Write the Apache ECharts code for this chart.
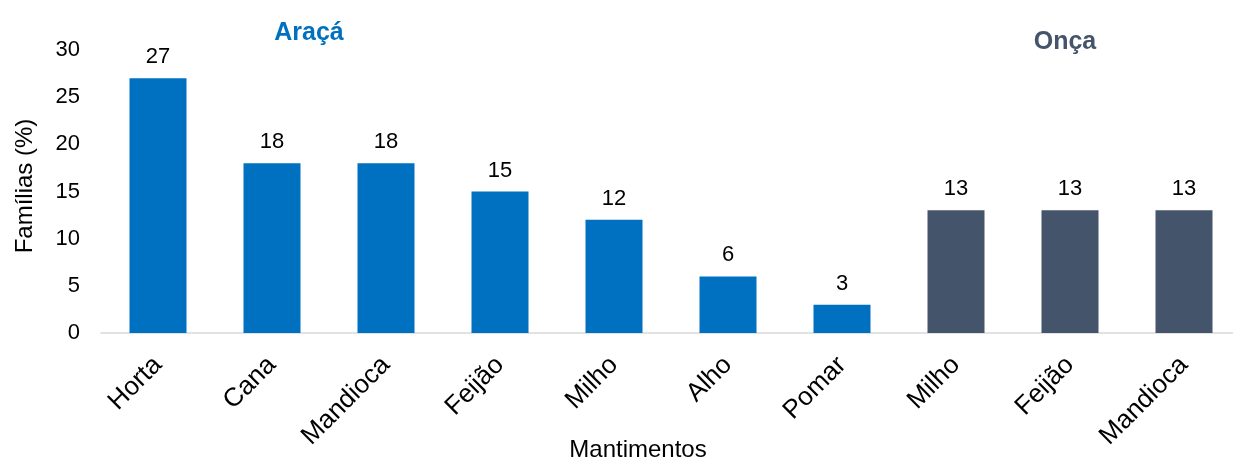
<!DOCTYPE html>
<html>
<head>
<meta charset="utf-8">
<script src="https://cdn.jsdelivr.net/npm/echarts@6/dist/echarts.min.js"></script>
<style>
  html, body { margin: 0; padding: 0; background: #fff; }
  #chart { width: 1233px; height: 459px; }
</style>
</head>
<body>
<div id="chart"></div>
<script>
// Crops cited by families in each community
const categories = ['Horta', 'Cana', 'Mandioca', 'Feijão', 'Milho', 'Alho', 'Pomar', 'Milho', 'Feijão', 'Mandioca'];
const values = [27, 18, 18, 15, 12, 6, 3, 13, 13, 13];
const communities = ['Araçá', 'Araçá', 'Araçá', 'Araçá', 'Araçá', 'Araçá', 'Araçá', 'Onça', 'Onça', 'Onça'];
const yTicks = [0, 5, 10, 15, 20, 25, 30];
const xTitle = 'Mantimentos';
const yTitle = 'Famílias (%)';

const colorOf = { 'Araçá': '#0070C0', 'Onça': '#44546A' };
const font = '"Liberation Sans", Arial, sans-serif';

const chart = echarts.init(document.getElementById('chart'));

chart.setOption({
  animation: false,
  textStyle: { fontFamily: font },
  grid: { left: 101, top: 50, width: 1140, height: 283, containLabel: false, outerBoundsMode: 'none' },
  graphic: [
    { type: 'text', x: 309, y: 33, style: { text: 'Araçá', fill: colorOf['Araçá'], font: 'bold 25px ' + font, textAlign: 'center', textVerticalAlign: 'middle' } },
    { type: 'text', x: 1065, y: 42, style: { text: 'Onça', fill: colorOf['Onça'], font: 'bold 25px ' + font, textAlign: 'center', textVerticalAlign: 'middle' } },
    { type: 'text', x: 638, y: 450, style: { text: xTitle, fill: '#000', font: '24px ' + font, textAlign: 'center', textVerticalAlign: 'middle' } },
    { type: 'text', x: 25, y: 186, rotation: Math.PI / 2, style: { text: yTitle, fill: '#000', font: '24px ' + font, textAlign: 'center', textVerticalAlign: 'middle' } }
  ],
  xAxis: {
    type: 'category',
    data: categories,
    axisLine: { show: true, lineStyle: { color: '#D9D9D9', width: 1.5 } },
    axisTick: { show: false },
    axisLabel: { rotate: 45, fontSize: 26, color: '#000', margin: 28, fontFamily: font, interval: 0 }
  },
  yAxis: {
    type: 'value',
    min: yTicks[0],
    max: yTicks[yTicks.length - 1],
    interval: 5,
    axisLine: { show: false },
    axisTick: { show: false },
    splitLine: { show: false },
    axisLabel: { fontSize: 22, color: '#000', margin: 21, fontFamily: font }
  },
  series: [{
    type: 'bar',
    barWidth: '50%',
    data: values.map((v, i) => ({ value: v, itemStyle: { color: colorOf[communities[i]] } })),
    label: {
      show: true,
      position: 'top',
      distance: 10,
      fontSize: 22,
      color: '#000',
      fontFamily: font
    }
  }]
});
</script>
</body>
</html>
